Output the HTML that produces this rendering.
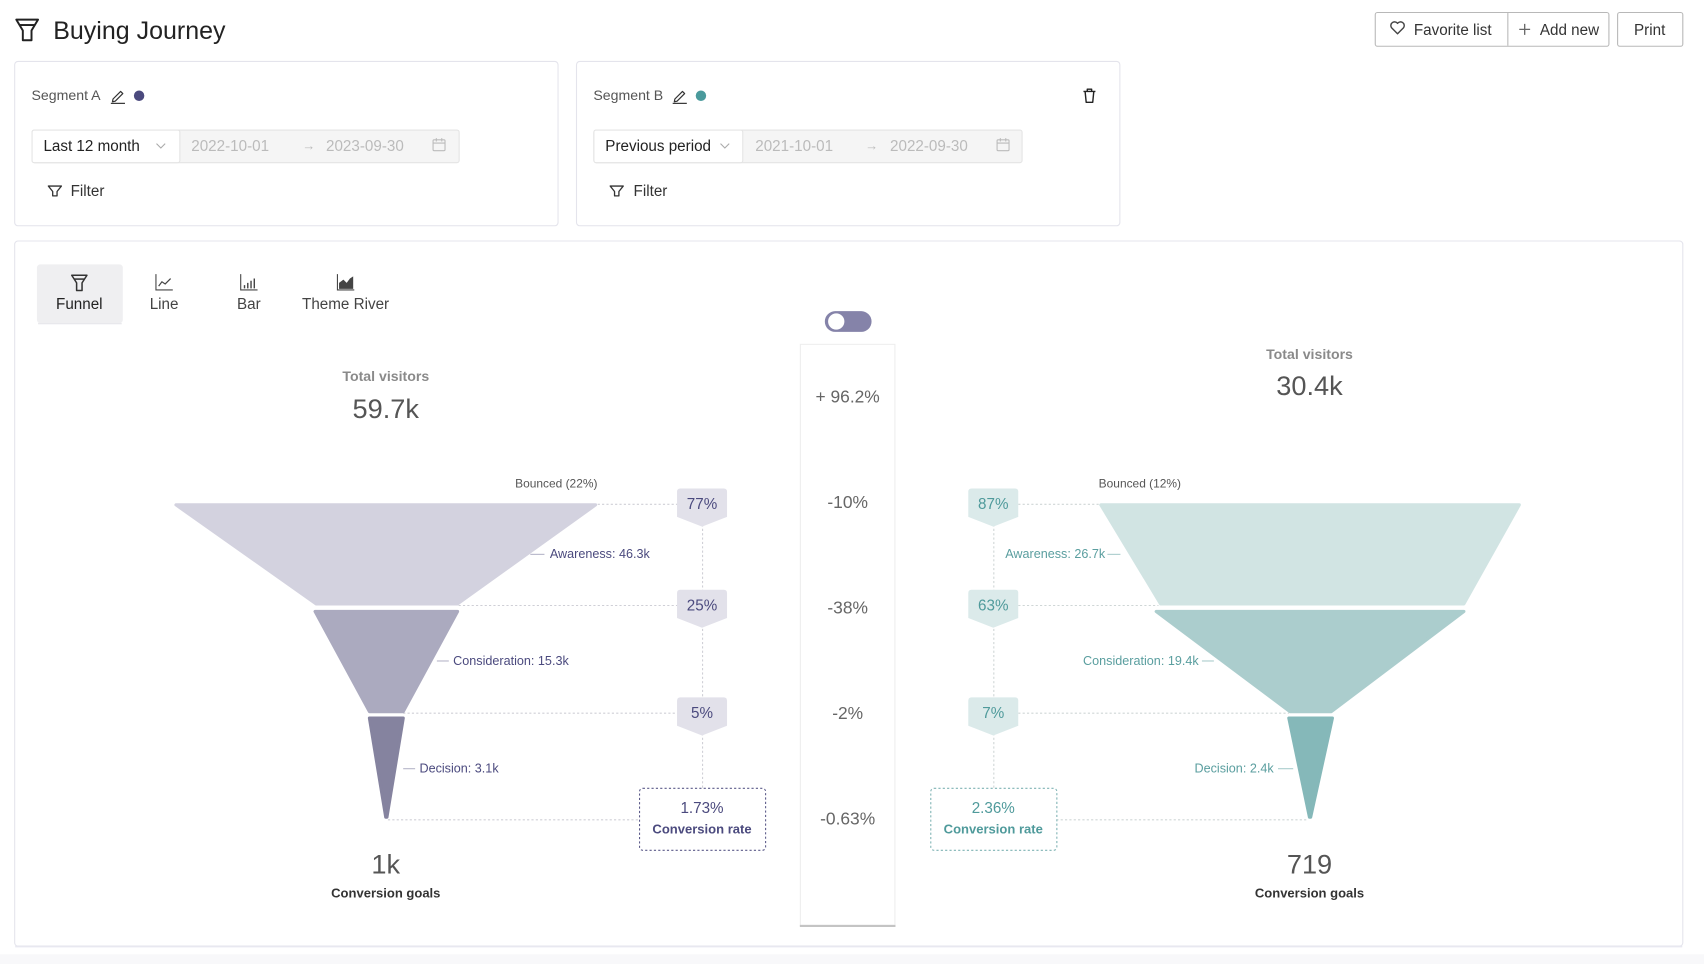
<!DOCTYPE html>
<html><head><meta charset="utf-8"><style>
html,body{margin:0;padding:0;background:#fff;width:1704px;height:964px;overflow:hidden}
svg{display:block;font-family:"Liberation Sans",Arial,sans-serif}
</style></head><body>
<svg width="1704" height="964" viewBox="0 0 1568 886" preserveAspectRatio="none" xmlns="http://www.w3.org/2000/svg">
<rect x="0" y="0" width="1568" height="886" fill="#fff"/>
<rect x="0" y="877" width="1568" height="9" fill="#f8f8fa"/>
<!-- title -->
<g fill="none" stroke="#222" stroke-width="1.8" stroke-linejoin="round">
<path d="M15 18 H35 L29 28 V37 H21 V28 Z"/><path d="M18 23 H32"/>
</g>
<text x="49" y="36" font-size="23" fill="#222">Buying Journey</text>
<!-- buttons -->
<rect x="1265.5" y="11.5" width="215" height="31" rx="2" fill="#fff" stroke="#b8b8b8"/>
<line x1="1387.5" y1="12" x2="1387.5" y2="42" stroke="#b8b8b8"/>
<rect x="1488.5" y="11.5" width="60" height="31" rx="2" fill="#fff" stroke="#b8b8b8"/>
<path d="M1286 31 L1280.5 25.5 A3.2 3.2 0 0 1 1286 21.5 A3.2 3.2 0 0 1 1291.5 25.5 Z" fill="none" stroke="#444" stroke-width="1.3" stroke-linejoin="round"/>
<text x="1301" y="32" font-size="14" fill="#333">Favorite list</text>
<path d="M1398 27 H1408 M1403 22 V32" stroke="#666" stroke-width="1.2"/>
<text x="1417" y="32" font-size="14" fill="#333">Add new</text>
<text x="1518" y="32" font-size="14" fill="#333" text-anchor="middle">Print</text>
<!-- Segment A -->
<rect x="13.5" y="56.5" width="500" height="151" rx="3" fill="#fff" stroke="#e4e4ec"/>
<text x="29" y="92" font-size="13" fill="#555">Segment A</text>
<path d="M104 91 L111 84 L113 86 L106 93 L103.5 93.5 Z" fill="none" stroke="#333" stroke-width="1.1" stroke-linejoin="round"/>
<line x1="102" y1="95" x2="115" y2="95" stroke="#333" stroke-width="1.1"/>
<circle cx="128" cy="88" r="4.8" fill="#4b4a7e"/>
<rect x="29.5" y="119.5" width="393" height="30" rx="2" fill="#f5f5f5" stroke="#e4e4e4"/>
<rect x="29.5" y="119.5" width="136" height="30" rx="2" fill="#fff" stroke="#e4e4e4"/>
<text x="40" y="139" font-size="14" fill="#222">Last 12 month</text>
<polyline points="144,132 148,136 152,132" fill="none" stroke="#aaa" stroke-width="1"/>
<text x="176" y="139" font-size="14" fill="#bbb">2022-10-01</text>
<text x="284" y="138" font-size="12" fill="#bbb" text-anchor="middle">→</text>
<text x="300" y="139" font-size="14" fill="#bbb">2023-09-30</text>
<rect x="398.5" y="128.5" width="11" height="10" rx="1" fill="none" stroke="#bbb"/>
<path d="M398.5 131.5 H409.5 M401.5 127 V130 M406.5 127 V130" stroke="#bbb"/>
<path d="M44.5 171 H56.5 L52.5 176 V180 H48.5 V176 Z" fill="none" stroke="#333" stroke-width="1.2" stroke-linejoin="round"/>
<text x="65" y="180" font-size="14" fill="#333">Filter</text>
<!-- Segment B -->
<rect x="530.5" y="56.5" width="500" height="151" rx="3" fill="#fff" stroke="#e4e4ec"/>
<text x="546" y="92" font-size="13" fill="#555">Segment B</text>
<path d="M621 91 L628 84 L630 86 L623 93 L620.5 93.5 Z" fill="none" stroke="#333" stroke-width="1.1" stroke-linejoin="round"/>
<line x1="619" y1="95" x2="632" y2="95" stroke="#333" stroke-width="1.1"/>
<circle cx="645" cy="88" r="4.8" fill="#4a9a9c"/>
<path d="M997 84 H1008 M1000.5 84 V82 H1004.5 V84 M998.5 84 L999.5 94 H1005.5 L1006.5 84" fill="none" stroke="#222" stroke-width="1.3" stroke-linejoin="round"/>
<rect x="546.5" y="119.5" width="394" height="30" rx="2" fill="#f5f5f5" stroke="#e4e4e4"/>
<rect x="546.5" y="119.5" width="137" height="30" rx="2" fill="#fff" stroke="#e4e4e4"/>
<text x="557" y="139" font-size="14" fill="#222">Previous period</text>
<polyline points="663,132 667,136 671,132" fill="none" stroke="#aaa" stroke-width="1"/>
<text x="695" y="139" font-size="14" fill="#bbb">2021-10-01</text>
<text x="802" y="138" font-size="12" fill="#bbb" text-anchor="middle">→</text>
<text x="819" y="139" font-size="14" fill="#bbb">2022-09-30</text>
<rect x="917.5" y="128.5" width="11" height="10" rx="1" fill="none" stroke="#bbb"/>
<path d="M917.5 131.5 H928.5 M920.5 127 V130 M925.5 127 V130" stroke="#bbb"/>
<path d="M561.5 171 H573.5 L569.5 176 V180 H565.5 V176 Z" fill="none" stroke="#333" stroke-width="1.2" stroke-linejoin="round"/>
<text x="583" y="180" font-size="14" fill="#333">Filter</text>
<!-- Chart card -->
<rect x="13.5" y="221.5" width="1535" height="648" rx="3" fill="#fff" stroke="#e4e4ec"/>
<line x1="14" y1="870" x2="1548" y2="870" stroke="#e8e8f0" stroke-width="1.5"/>
<!-- tabs -->
<rect x="34" y="243" width="79" height="54" rx="3" fill="#efeff1"/>
<line x1="35" y1="297.5" x2="112" y2="297.5" stroke="#e6e6ea"/>
<g fill="none" stroke="#333" stroke-width="1.4" stroke-linejoin="round">
<path d="M66 253 H80 L75.5 260 V267 H70.5 V260 Z"/><path d="M68.5 256.5 H77.5"/>
</g>
<text x="73" y="284" font-size="14" fill="#222" text-anchor="middle">Funnel</text>
<path d="M143.5 252 V266.5 H159" fill="none" stroke="#444" stroke-width="1"/>
<polyline points="146,263 149,259 152,261 157,256" fill="none" stroke="#444" stroke-width="1.1"/>
<text x="151" y="284" font-size="14" fill="#444" text-anchor="middle">Line</text>
<path d="M221.5 252 V266.5 H237" fill="none" stroke="#444" stroke-width="1"/>
<path d="M225 265 V262 M228 265 V260 M231 265 V258 M234 265 V256" stroke="#444" stroke-width="1.3"/>
<text x="229" y="284" font-size="14" fill="#444" text-anchor="middle">Bar</text>
<path d="M310.5 252 V266.5 H326" fill="none" stroke="#444" stroke-width="1"/>
<path d="M312 265.5 V260 L316 257 L319 260 L322 256 L325 254 V265.5 Z" fill="#444"/>
<text x="318" y="284" font-size="14" fill="#444" text-anchor="middle">Theme River</text>
<!-- toggle -->
<rect x="759" y="286" width="43" height="19" rx="9.5" fill="#8583a9"/>
<circle cx="769.5" cy="295.5" r="8" fill="#fff" stroke="#8583a9" stroke-width="1"/>
<!-- center column -->
<rect x="736.5" y="316.5" width="87" height="534" fill="#fff" stroke="#eeeeee"/>
<line x1="736" y1="851" x2="824" y2="851" stroke="#c4c4c4" stroke-width="2"/>
<g font-size="16" fill="#666" text-anchor="middle">
<text x="780" y="370">+ 96.2%</text>
<text x="780" y="467">-10%</text>
<text x="780" y="564">-38%</text>
<text x="780" y="661">-2%</text>
<text x="780" y="758">-0.63%</text>
</g>
<!-- LEFT -->
<text x="355" y="350" font-size="13" font-weight="bold" fill="#8a8a8a" text-anchor="middle">Total visitors</text>
<text x="355" y="384" font-size="25" fill="#555" text-anchor="middle">59.7k</text>
<g stroke="#cfcfd6" stroke-dasharray="2 2" stroke-width="1">
<line x1="550" y1="463.5" x2="625" y2="463.5"/>
<line x1="422" y1="556.5" x2="625" y2="556.5"/>
<line x1="371" y1="655.5" x2="625" y2="655.5"/>
<line x1="357" y1="753.5" x2="588" y2="753.5"/>
<line x1="646.5" y1="478" x2="646.5" y2="724"/>
</g>
<g stroke-linejoin="round" stroke-width="3">
<path d="M162 464 H548 L421 555 H291 Z" fill="#d3d2df" stroke="#d3d2df"/>
<path d="M290 562 H421 L371 654 H340 Z" fill="#abaabf" stroke="#abaabf"/>
<path d="M340 660 H371 L356 751 H355 Z" fill="#85839f" stroke="#85839f"/>
</g>
<text x="474" y="448" font-size="11" fill="#555">Bounced (22%)</text>
<g stroke="#b5b4c8" stroke-width="1"><line x1="488" y1="509.5" x2="501" y2="509.5"/><line x1="402" y1="607.5" x2="413" y2="607.5"/><line x1="371" y1="706.5" x2="382" y2="706.5"/></g>
<g font-size="11.6" fill="#4b4a7e">
<text x="506" y="513">Awareness: 46.3k</text>
<text x="417" y="611">Consideration: 15.3k</text>
<text x="386" y="710">Decision: 3.1k</text>
</g>
<g fill="#e2e1ea">
<path d="M626 449 H666 Q669 449 669 452 V475 L646 484 L623 475 V452 Q623 449 626 449 Z"/>
<path d="M626 542 H666 Q669 542 669 545 V568 L646 577 L623 568 V545 Q623 542 626 542 Z"/>
<path d="M626 641 H666 Q669 641 669 644 V667 L646 676 L623 667 V644 Q623 641 626 641 Z"/>
</g>
<g font-size="14" fill="#4b4a7e" text-anchor="middle">
<text x="646" y="468">77%</text>
<text x="646" y="561">25%</text>
<text x="646" y="660">5%</text>
</g>
<rect x="588.5" y="724.5" width="116" height="57" rx="3" fill="#fff" stroke="#5c5b8a" stroke-dasharray="2 2"/>
<text x="646" y="747" font-size="14" fill="#4b4a7e" text-anchor="middle">1.73%</text>
<text x="646" y="766" font-size="12" font-weight="bold" fill="#4b4a7e" text-anchor="middle">Conversion rate</text>
<text x="355" y="803" font-size="25" fill="#555" text-anchor="middle">1k</text>
<text x="355" y="825" font-size="12" font-weight="bold" fill="#333" text-anchor="middle">Conversion goals</text>
<!-- RIGHT -->
<text x="1205" y="330" font-size="13" font-weight="bold" fill="#8a8a8a" text-anchor="middle">Total visitors</text>
<text x="1205" y="363" font-size="25" fill="#555" text-anchor="middle">30.4k</text>
<g stroke="#cfd6d6" stroke-dasharray="2 2" stroke-width="1">
<line x1="937" y1="463.5" x2="1012" y2="463.5"/>
<line x1="937" y1="556.5" x2="1066" y2="556.5"/>
<line x1="937" y1="655.5" x2="1186" y2="655.5"/>
<line x1="972" y1="753.5" x2="1204" y2="753.5"/>
<line x1="914.5" y1="478" x2="914.5" y2="724"/>
</g>
<g stroke-linejoin="round" stroke-width="3">
<path d="M1013 464 H1398 L1347 555 H1068 Z" fill="#d1e4e3" stroke="#d1e4e3"/>
<path d="M1064 562 H1347 L1225 654 H1187 Z" fill="#abcdcd" stroke="#abcdcd"/>
<path d="M1186 660 H1226 L1206 751 H1205 Z" fill="#85b8b9" stroke="#85b8b9"/>
</g>
<text x="1011" y="448" font-size="11" fill="#555">Bounced (12%)</text>
<g stroke="#a9cccc" stroke-width="1"><line x1="1019" y1="509.5" x2="1031" y2="509.5"/><line x1="1106" y1="607.5" x2="1117" y2="607.5"/><line x1="1176" y1="706.5" x2="1190" y2="706.5"/></g>
<g font-size="11.6" fill="#5a9e9f">
<text x="1017" y="513" text-anchor="end">Awareness: 26.7k</text>
<text x="1103" y="611" text-anchor="end">Consideration: 19.4k</text>
<text x="1172" y="710" text-anchor="end">Decision: 2.4k</text>
</g>
<g fill="#dbeaea">
<path d="M894 449 H934 Q937 449 937 452 V475 L914 484 L891 475 V452 Q891 449 894 449 Z"/>
<path d="M894 542 H934 Q937 542 937 545 V568 L914 577 L891 568 V545 Q891 542 894 542 Z"/>
<path d="M894 641 H934 Q937 641 937 644 V667 L914 676 L891 667 V644 Q891 641 894 641 Z"/>
</g>
<g font-size="14" fill="#4f9a9b" text-anchor="middle">
<text x="914" y="468">87%</text>
<text x="914" y="561">63%</text>
<text x="914" y="660">7%</text>
</g>
<rect x="856.5" y="724.5" width="116" height="57" rx="3" fill="#fff" stroke="#7fb3b4" stroke-dasharray="2 2"/>
<text x="914" y="747" font-size="14" fill="#4f9a9b" text-anchor="middle">2.36%</text>
<text x="914" y="766" font-size="12" font-weight="bold" fill="#4f9a9b" text-anchor="middle">Conversion rate</text>
<text x="1205" y="803" font-size="25" fill="#555" text-anchor="middle">719</text>
<text x="1205" y="825" font-size="12" font-weight="bold" fill="#333" text-anchor="middle">Conversion goals</text>
</svg>
</body></html>
